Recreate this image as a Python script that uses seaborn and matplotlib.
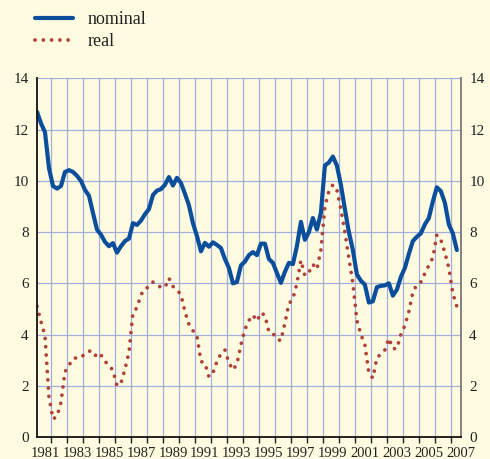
import numpy as np
import pandas as pd
import matplotlib
matplotlib.use("Agg")
import matplotlib.pyplot as plt
import seaborn as sns

# --- data: quarterly rates (%) ---
QUARTERS = 1981.0 + 0.25 * np.arange(106)

NOMINAL = [
    12.7, 12.25, 11.9, 10.5, 9.8, 9.7, 9.8, 10.35,
    10.42, 10.35, 10.2, 10.0, 9.65, 9.42, 8.75, 8.1,
    7.9, 7.62, 7.45, 7.57, 7.2, 7.45, 7.65, 7.75,
    8.35, 8.28, 8.45, 8.7, 8.9, 9.45, 9.62, 9.68,
    9.85, 10.15, 9.82, 10.12, 9.92, 9.5, 9.05, 8.35,
    7.85, 7.25, 7.58, 7.43, 7.6, 7.5, 7.38, 6.95,
    6.6, 6.0, 6.05, 6.7, 6.85, 7.1, 7.22, 7.1,
    7.55, 7.55, 6.95, 6.8, 6.4, 6.02, 6.45, 6.8,
    6.75, 7.45, 8.4, 7.7, 8.0, 8.55, 8.1, 8.75,
    10.6, 10.72, 10.95, 10.6, 9.85, 8.9, 8.0, 7.3,
    6.35, 6.1, 5.95, 5.25, 5.3, 5.85, 5.9, 5.92,
    6.0, 5.52, 5.75, 6.25, 6.6, 7.15, 7.65, 7.82,
    7.95, 8.3, 8.55, 9.2, 9.75, 9.6, 9.15, 8.3,
    7.95, 7.3,
]

REAL = [
    5.1, 4.5, 3.95, 1.55, 0.7, 0.8, 1.35, 2.55,
    2.8, 3.05, 3.1, 3.1, 3.25, 3.35, 3.36, 3.1,
    3.2, 2.95, 2.8, 2.6, 2.0, 2.1, 2.65, 3.3,
    4.85, 5.05, 5.55, 5.8, 5.85, 6.05, 5.95, 5.84,
    5.84, 6.2, 5.88, 5.75, 5.55, 4.9, 4.4, 4.15,
    3.95, 2.95, 2.88, 2.35, 2.5, 2.95, 3.25, 3.4,
    2.9, 2.62, 2.85, 3.6, 4.2, 4.55, 4.76, 4.53,
    4.85, 4.75, 4.1, 4.04, 3.82, 3.76, 4.45, 5.2,
    5.4, 6.0, 6.9, 6.3, 6.43, 6.74, 6.55, 7.3,
    9.0, 9.6, 9.85, 9.65, 8.9, 8.0, 6.98, 6.0,
    4.55, 4.0, 3.6, 2.5, 2.3, 3.1, 3.23, 3.4,
    3.85, 3.45, 3.45, 4.0, 4.35, 4.9, 5.65, 5.95,
    6.05, 6.39, 6.7, 7.0, 7.89, 7.7, 7.2, 6.6,
    5.6, 5.1,
]

YEAR_LABELS = [str(y) for y in range(1981, 2008, 2)]
Y_TICKS = list(range(0, 15, 2))

BG = "#FFFBE0"
GRID = "#A3AEDC"
BLUE = "#0B4F9C"
RED = "#B0403A"

df = pd.DataFrame({"t": QUARTERS, "nominal": NOMINAL, "real": REAL})

sns.set_theme(style="white")
plt.rcParams["font.family"] = ["Liberation Serif", "DejaVu Serif"]

fig = plt.figure(figsize=(4.9, 4.59), dpi=100, facecolor=BG)
ax = fig.add_axes([0.0755, 0.048, 0.865, 0.781])
ax.set_facecolor(BG)

sns.lineplot(data=df, x="t", y="nominal", ax=ax, color=BLUE, lw=3.0,
             label="nominal", solid_joinstyle="round")
sns.lineplot(data=df, x="t", y="real", ax=ax, color=RED, lw=2.7,
             linestyle=(0, (0.01, 2.2)), dash_capstyle="round", label="real")

ax.set_xlim(1981.0, 2007.5)
ax.set_ylim(0, 14)

# gridlines sit on year boundaries, labels in the middle of each year
ax.set_xticks([y + 0.9 for y in range(1981, 2007)])
ax.set_xticklabels([])
ax.set_xticks([int(l) + 0.5 for l in YEAR_LABELS], minor=True)
ax.set_xticklabels(YEAR_LABELS, minor=True, fontsize=10.5, color="#222222")
ax.tick_params(axis="x", which="major", direction="out", length=4, width=1,
               color="#222222", bottom=True)
ax.tick_params(axis="x", which="minor", length=0, pad=7)

ax.set_yticks(Y_TICKS)
ax.set_yticklabels([str(v) for v in Y_TICKS], fontsize=11, color="#222222")
ax.tick_params(axis="y", length=0, labelleft=True, labelright=True, pad=6)

ax.grid(True, which="major", color=GRID, lw=0.9)
ax.set_xlabel("")
ax.set_ylabel("")

ax.spines["top"].set_visible(False)
ax.spines["left"].set_color("#111111")
ax.spines["left"].set_linewidth(1.3)
ax.spines["bottom"].set_color("#111111")
ax.spines["bottom"].set_linewidth(1.3)
ax.spines["right"].set_color("#777777")
ax.spines["right"].set_linewidth(1.3)

handles, labels = ax.get_legend_handles_labels()
ax.get_legend().remove()
fig.legend(handles, labels, loc="upper left", bbox_to_anchor=(0.05, 1.0),
           frameon=False, fontsize=13, handlelength=2.1, handletextpad=0.8,
           labelspacing=0.3, borderaxespad=0.2, labelcolor="#222222")

fig.savefig("out.png", dpi=100, facecolor=BG)
